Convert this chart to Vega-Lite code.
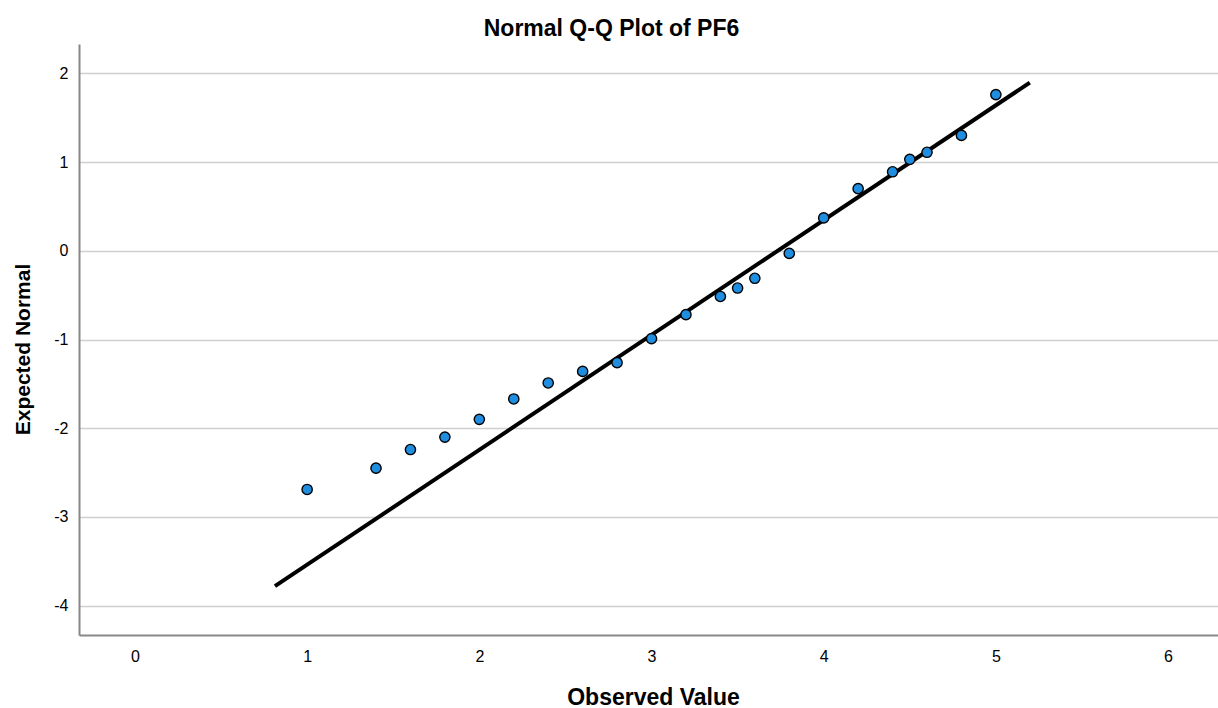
{
  "$schema": "https://vega.github.io/schema/vega-lite/v6.json",
  "width": 1139,
  "height": 591,
  "autosize": "none",
  "padding": {"left": 79, "top": 44, "right": 0, "bottom": 73},
  "background": "white",
  "title": {
    "text": "Normal Q-Q Plot of PF6",
    "font": "Liberation Sans",
    "fontSize": 23,
    "fontWeight": "bold",
    "color": "#000000",
    "anchor": "middle",
    "frame": "group",
    "dx": -37,
    "dy": 26,
    "baseline": "alphabetic",
    "offset": 11
  },
  "config": {
    "view": {"stroke": null},
    "axis": {
      "labelFont": "Liberation Sans",
      "titleFont": "Liberation Sans",
      "labelColor": "#000000",
      "titleColor": "#000000"
    }
  },
  "layer": [
    {
      "data": {
        "values": [
          {"observed": 1.0, "expected": -2.69},
          {"observed": 1.4, "expected": -2.45},
          {"observed": 1.6, "expected": -2.24},
          {"observed": 1.8, "expected": -2.10},
          {"observed": 2.0, "expected": -1.90},
          {"observed": 2.2, "expected": -1.67},
          {"observed": 2.4, "expected": -1.49},
          {"observed": 2.6, "expected": -1.36},
          {"observed": 2.8, "expected": -1.26},
          {"observed": 3.0, "expected": -0.99},
          {"observed": 3.2, "expected": -0.72},
          {"observed": 3.4, "expected": -0.515},
          {"observed": 3.5, "expected": -0.42},
          {"observed": 3.6, "expected": -0.31},
          {"observed": 3.8, "expected": -0.03},
          {"observed": 4.0, "expected": 0.37},
          {"observed": 4.2, "expected": 0.70},
          {"observed": 4.4, "expected": 0.89},
          {"observed": 4.5, "expected": 1.03},
          {"observed": 4.6, "expected": 1.11},
          {"observed": 4.8, "expected": 1.30},
          {"observed": 5.0, "expected": 1.76}
        ]
      },
      "layer": [
        {
          "mark": {"type": "line", "color": "#000000", "strokeWidth": 4, "clip": true},
          "data": {"values": [{"lx": 0.813, "ly": -3.78}, {"lx": 5.197, "ly": 1.895}]},
          "encoding": {
            "x": {"field": "lx", "type": "quantitative"},
            "y": {"field": "ly", "type": "quantitative"}
          }
        },
        {
          "mark": {"type": "point", "filled": true, "fill": "#1f8ee0", "stroke": "#000000", "strokeWidth": 1.4, "size": 105, "opacity": 1},
          "encoding": {
            "x": {
              "field": "observed",
              "type": "quantitative",
              "scale": {"domain": [-0.325, 6.29], "nice": false, "zero": false},
              "axis": {
                "title": "Observed Value",
                "titleFontSize": 23,
                "titleFontWeight": "bold",
                "titlePadding": 22,
                "titleX": 574,
                "values": [0, 1, 2, 3, 4, 5, 6],
                "labelExpr": "datum.value < 0 ? '-' + abs(datum.value) : '' + datum.value",
                "labelFontSize": 16,
                "labelPadding": 13,
                "ticks": false,
                "grid": false,
                "domainColor": "#888888",
                "domainWidth": 2
              }
            },
            "y": {
              "field": "expected",
              "type": "quantitative",
              "scale": {"domain": [-4.33, 2.33], "nice": false, "zero": false},
              "axis": {
                "title": "Expected Normal",
                "titleFontSize": 21,
                "titleFontWeight": "bold",
                "titlePadding": 20,
                "titleY": 305,
                "values": [-4, -3, -2, -1, 0, 1, 2],
                "labelExpr": "datum.value < 0 ? '-' + abs(datum.value) : '' + datum.value",
                "labelFontSize": 16,
                "labelPadding": 11,
                "ticks": false,
                "grid": true,
                "gridColor": "#cfcfcf",
                "gridWidth": 1.5,
                "domainColor": "#888888",
                "domainWidth": 2
              }
            }
          }
        }
      ]
    }
  ]
}
